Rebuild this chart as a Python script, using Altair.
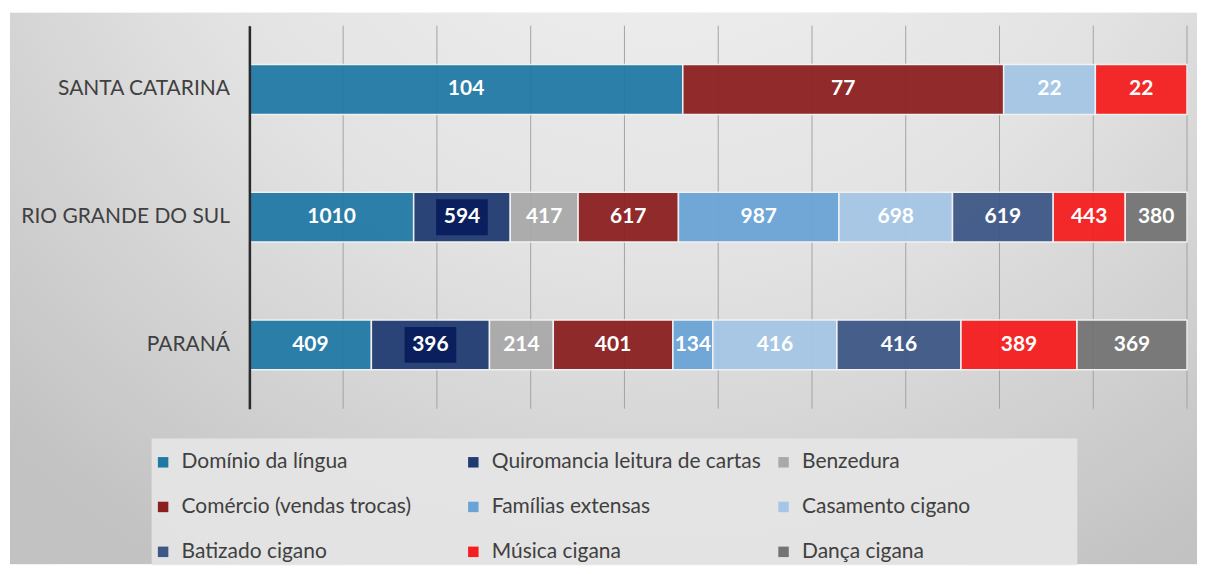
import altair as alt
import pandas as pd

states = ["SANTA CATARINA", "RIO GRANDE DO SUL", "PARANÁ"]
categories = [
    "Domínio da língua",
    "Quiromancia leitura de cartas",
    "Benzedura",
    "Comércio (vendas trocas)",
    "Famílias extensas",
    "Casamento cigano",
    "Batizado cigano",
    "Música cigana",
    "Dança cigana",
]
colors = ["#2079a5", "#203b72", "#a9a9a9", "#8b1f20", "#6aa4d6",
          "#a5c6e6", "#3d5786", "#f51d1d", "#747474"]
values_sc = [104, None, None, 77, None, 22, None, 22, None]
values_rs = [1010, 594, 417, 617, 987, 698, 619, 443, 380]
values_pr = [409, 396, 214, 401, 134, 416, 416, 389, 369]
grid_ticks = [0.0, 0.1, 0.2, 0.3, 0.4, 0.5, 0.6, 0.7, 0.8, 0.9, 1.0]

rows = []
for st, vals in zip(states, [values_sc, values_rs, values_pr]):
    for i, (cat, v) in enumerate(zip(categories, vals)):
        if v is not None:
            rows.append({"state": st, "cat": cat, "order": i, "value": v})
df = pd.DataFrame(rows)

FONT = "Lato"

y_enc = alt.Y(
    "state:N",
    sort=states,
    title=None,
    scale=alt.Scale(paddingInner=0.61, paddingOuter=0.305),
    axis=alt.Axis(
        labelFont=FONT, labelFontSize=21, labelColor="#404040",
        labelPadding=20, labelLimit=400, ticks=False, grid=False,
        domainColor="#2a2a2a", domainWidth=2.5, zindex=1,
    ),
)
x_scale = alt.Scale(domain=[0, 1], nice=False)

base = alt.Chart(df).transform_stack(
    stack="value", groupby=["state"], as_=["v0", "v1"],
    offset="normalize", sort=[alt.SortField("order", order="ascending")],
).transform_calculate(mid="(datum.v0 + datum.v1) / 2")

bg = alt.Chart(alt.Data(values=[{}])).mark_rect(
    color=alt.RadialGradient(
        gradient="radial",
        stops=[alt.GradientStop(offset=0, color="#f5f5f5"),
               alt.GradientStop(offset=0.55, color="#e2e2e2"),
               alt.GradientStop(offset=1, color="#c2c2c2")],
        x1=0.55, y1=0.05, x2=0.55, y2=0.05, r1=0, r2=0.8,
    )
).encode(x=alt.value(-240), x2=alt.value(950), y=alt.value(-13), y2=alt.value(540))

legend_panel = alt.Chart(alt.Data(values=[{}])).mark_rect(
    color="#e6e6e6", opacity=0.9
).encode(x=alt.value(-98), x2=alt.value(830), y=alt.value(414), y2=alt.value(541))

grid = alt.Chart(pd.DataFrame({"t": grid_ticks})).mark_rule(
    color="#a3a3a3", strokeWidth=1
).encode(x=alt.X("t:Q", scale=x_scale, axis=None))

bars = base.mark_bar(stroke="#f2f2f2", strokeWidth=1.5, opacity=0.94).encode(
    x=alt.X("v0:Q", scale=x_scale, axis=None),
    x2="v1:Q",
    y=y_enc,
    color=alt.Color(
        "cat:N",
        scale=alt.Scale(domain=categories, range=colors),
        legend=alt.Legend(
            title=None, orient="none", legendX=-97, legendY=427,
            columns=3, direction="horizontal", gridAlign="all",
            columnPadding=12, rowPadding=23,
            symbolType="square", symbolSize=110, symbolStrokeWidth=0,
            labelFont=FONT, labelFontSize=21, labelColor="#404040",
            labelLimit=500, labelOffset=8,
            padding=0, symbolOpacity=1,
        ),
    ),
)

box_path = "M-1.44,-1 L1.44,-1 L1.44,1 L-1.44,1 Z"
boxes = base.transform_filter(
    alt.datum.cat == categories[1]
).mark_point(shape=box_path, filled=True, color="#0b1f5e", opacity=1, size=1296).encode(
    x=alt.X("mid:Q", scale=x_scale, axis=None),
    y=alt.Y("state:N", sort=states),
)

labels = base.mark_text(
    color="white", font=FONT, fontSize=21, fontWeight="bold", baseline="middle"
).encode(
    x=alt.X("mid:Q", scale=x_scale, axis=None),
    y=alt.Y("state:N", sort=states),
    text="value:Q",
)

chart = alt.layer(bg, legend_panel, grid, bars, boxes, labels).properties(
    width=940, height=384,
    padding={"left": 242, "top": 17, "right": 10, "bottom": 158},
    autosize=alt.AutoSizeParams(type="none"),
    background="white",
).configure_view(stroke=None)

chart.save("out.html", embed_options={"renderer": "svg", "actions": False})
